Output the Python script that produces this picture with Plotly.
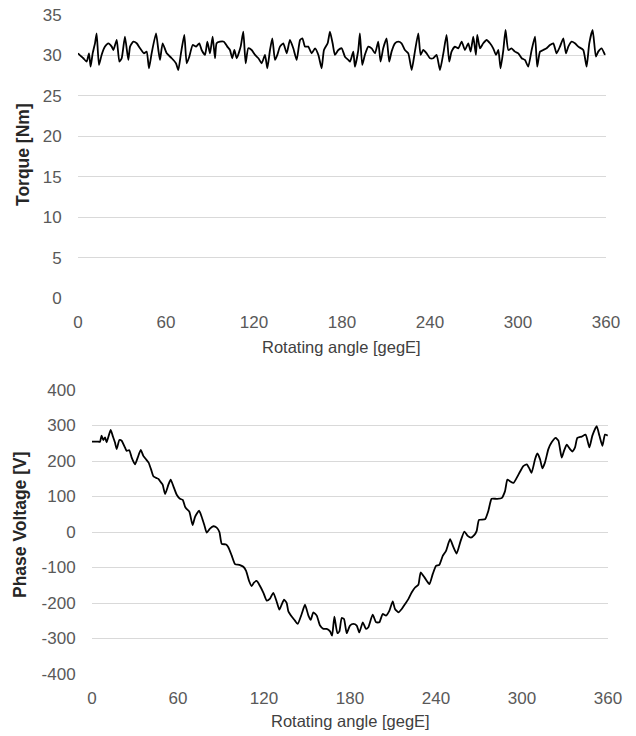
import plotly.graph_objects as go

# ---- Torque data (angle in degE, torque in Nm) ----
torque_angle = [0, 3.6, 5.9, 7.5, 8.6, 10.0, 11.6, 12.7, 14.3, 16.1, 18.4, 20.7, 23.0, 24.1, 26.4, 28.2, 29.8,
                32.0, 34.3, 35.5, 37.7, 40.0, 42.3, 45.0, 46.8, 48.4, 50.2, 53.2, 54.8, 55.9, 57.7, 60.5,
                63.9, 66.8, 68.4, 70.2, 72.5, 74.1, 75.9, 78.2, 80.5, 82.7, 84.3, 86.6, 88.2, 90.0, 91.8,
                93.4, 94.5, 96.8, 99.5, 101.8, 103.6, 105.2, 106.6, 108.2, 110.9, 112.7, 114.3, 116.1,
                118.4, 120.7, 123.0, 125.2, 127.5, 129.1, 130.9, 132.5, 134.3, 135.9, 137.7, 140.0, 142.3,
                144.5, 146.8, 149.1, 151.4, 153.0, 154.8, 157.0, 159.3, 161.6, 163.9, 166.1, 167.7, 170.2,
                171.8, 173.6, 175.2, 177.5, 179.8, 182.0, 184.3, 185.5, 187.7, 188.8, 191.1, 192.2, 193.8,
                195.6, 197.9, 200.2, 202.5, 204.7, 206.3, 208.1, 210.4, 212.2, 213.8, 216.1, 218.4, 220.6,
                222.9, 225.2, 227.5, 229.7, 232.0, 233.6, 235.4, 237.7, 240.0, 242.2, 244.5, 246.8, 249.1,
                251.3, 253.1, 254.7, 257.0, 259.3, 261.6, 263.8, 266.1, 267.7, 269.5, 271.3, 272.2, 274.1,
                276.3, 278.6, 280.9, 283.1, 285.0, 286.6, 288.1, 290.0, 291.5, 293.4, 295.6, 297.9, 300.2,
                302.5, 304.7, 307.0, 309.3, 311.6, 313.1, 315.0, 317.2, 319.5, 321.8, 324.1, 326.3, 328.6,
                330.9, 332.7, 334.3, 336.6, 338.8, 341.1, 344.5, 346.8, 348.6, 350.9, 353.1, 354.7, 357.0,
                359.3]
torque_nm = [30.26, 29.65, 29.23, 30.26, 28.61, 30.26, 31.50, 32.73, 28.82, 30.06, 31.09, 31.50, 31.09, 30.67,
             31.91, 29.23, 29.65, 32.32, 29.44, 31.09, 31.70, 31.50, 30.88, 30.26, 30.47, 28.41, 30.26,
             32.73, 30.67, 29.44, 31.50, 30.26, 29.65, 29.03, 28.20, 30.26, 32.53, 29.03, 29.85, 31.29,
             31.09, 31.50, 30.67, 30.06, 31.70, 30.26, 32.32, 29.65, 31.50, 31.70, 31.70, 31.09, 30.67,
             29.65, 30.67, 29.65, 31.09, 32.94, 29.03, 30.88, 30.67, 30.06, 29.65, 29.03, 30.06, 28.41,
             30.67, 32.12, 29.44, 30.06, 31.09, 31.50, 30.26, 31.91, 30.88, 29.44, 31.91, 32.12, 31.09,
             31.09, 30.26, 30.88, 30.06, 28.41, 30.67, 31.50, 32.94, 31.50, 30.06, 30.67, 30.88, 29.85,
             29.44, 29.23, 30.47, 28.61, 30.67, 32.73, 28.82, 30.06, 31.09, 30.88, 30.26, 31.70, 29.23,
             30.88, 32.12, 29.23, 30.47, 31.50, 31.70, 31.50, 30.67, 30.26, 28.20, 30.47, 32.73, 30.06,
             30.67, 30.26, 29.65, 29.65, 30.06, 28.20, 30.26, 32.53, 29.23, 30.47, 31.09, 30.88, 31.70,
             30.67, 31.50, 30.47, 32.32, 30.06, 32.53, 30.88, 31.50, 31.91, 31.50, 30.88, 30.06, 30.67,
             28.41, 30.67, 33.15, 30.67, 30.88, 30.47, 30.26, 29.65, 29.44, 28.61, 30.67, 32.32, 28.61,
             30.47, 30.67, 30.88, 31.29, 31.50, 30.26, 31.09, 32.12, 30.26, 31.09, 31.70, 31.50, 31.09,
             30.67, 28.61, 31.50, 33.15, 29.85, 30.47, 30.88, 30.06]

# ---- Phase voltage data (angle in degE, voltage in V) ----
volt_angle = [0, 4.4, 5.6, 6.7, 7.9, 9.1, 10.2, 13.0, 14.4, 16.0, 17.2, 19.1, 20.7, 23.0, 24.2, 26.0, 27.7,
              30.0, 31.9, 34.0, 35.8, 37.7, 39.5, 41.2, 42.8, 44.7, 46.3, 47.5, 49.3, 51.0, 53.3, 54.9,
              56.8, 59.1, 61.4, 63.3, 64.9, 65.6, 67.9, 70.2, 71.9, 74.7, 76.5, 78.4, 80.0, 82.3, 84.7,
              87.0, 88.9, 90.5, 93.5, 95.1, 97.5, 99.8, 102.8, 105.6, 107.5, 109.6, 111.4, 113.0, 114.9,
              117.2, 119.6, 121.9, 124.2, 126.5, 128.9, 130.7, 132.3, 134.0, 135.8, 137.0, 139.3, 141.6,
              143.5, 146.3, 148.6, 151.0, 152.6, 154.4, 156.8, 159.1, 161.4, 163.7, 166.1, 167.5, 169.1,
              171.2, 172.6, 174.2, 175.8, 177.7, 180.0, 182.3, 184.7, 186.5, 188.9, 191.2, 192.8, 195.8,
              198.2, 200.5, 202.8, 205.1, 207.5, 209.8, 211.4, 213.8, 216.1, 218.4, 220.7, 223.0, 225.4,
              227.7, 229.3, 232.3, 235.4, 237.7, 240.0, 242.3, 244.7, 247.0, 249.8, 252.1, 254.4, 257.2,
              259.8, 262.1, 264.4, 266.8, 268.4, 270.0, 274.2, 276.5, 278.8, 282.3, 285.8, 288.1, 289.8,
              291.6, 294.0, 296.3, 298.6, 300.9, 303.3, 305.1, 306.7, 309.1, 310.7, 312.6, 314.2, 316.0,
              318.4, 320.7, 323.5, 325.4, 327.7, 329.3, 331.2, 333.5, 335.1, 337.0, 338.6, 341.6, 344.4,
              347.0, 349.1, 352.1, 354.0, 356.1, 357.9, 359.8]
volt_v = [254.3, 254.3, 254.3, 271.5, 259.1, 266.7, 252.5, 287.7, 271.5, 252.5, 233.4, 259.1, 257.2, 238.2,
          228.6, 230.5, 209.6, 190.6, 209.6, 231.5, 214.4, 204.8, 195.3, 176.3, 157.2, 152.5, 149.6, 142.9,
          133.4, 106.8, 133.4, 147.7, 128.7, 104.9, 93.5, 90.6, 71.6, 66.7, 57.2, 19.1, 42.9, 60.0, 42.9,
          19.1, -1.8, 9.6, 16.2, 12.4, 0.0, -33.3, -35.2, -42.8, -66.6, -90.4, -92.3, -98.0, -109.4,
          -138.0, -152.3, -142.7, -138.0, -152.3, -171.3, -193.2, -187.5, -171.3, -197.0, -218.9, -204.6,
          -190.4, -199.9, -223.7, -238.0, -249.6, -259.0, -230.9, -204.7, -235.6, -247.7, -226.2, -235.6,
          -263.6, -273.0, -273.0, -280.0, -292.0, -238.4, -285.0, -280.0, -242.1, -244.9, -285.0, -263.6,
          -259.0, -263.6, -283.0, -254.3, -273.0, -268.3, -232.8, -254.3, -254.3, -230.9, -235.6, -221.6,
          -195.4, -216.9, -226.2, -216.9, -202.9, -189.1, -170.3, -156.3, -148.8, -114.1, -130.0, -146.9,
          -118.8, -95.3, -92.5, -67.2, -53.1, -20.3, -41.9, -60.6, -25.0, 1.3, -10.9, -15.6, -8.1, 3.1,
          34.1, 35.9, 59.4, 93.5, 93.5, 95.4, 114.4, 147.8, 143.0, 138.2, 152.5, 169.7, 185.8, 190.6,
          179.2, 166.8, 204.9, 221.1, 204.9, 179.2, 195.4, 233.4, 252.5, 264.9, 257.2, 209.6, 228.7,
          245.8, 233.4, 226.8, 238.2, 264.9, 268.7, 274.4, 238.2, 271.5, 298.2, 271.5, 242.9, 274.4,
          271.5]

x_ticks = [0, 60, 120, 180, 240, 300, 360]
torque_ticks = [0, 5, 10, 15, 20, 25, 30, 35]
volt_ticks = [-400, -300, -200, -100, 0, 100, 200, 300, 400]

x_title = "Rotating angle [gegE]"
torque_title = "Torque [Nm]"
volt_title = "Phase Voltage [V]"

FONT = "Liberation Sans, Arial, sans-serif"
TICK_COLOR = "#595959"
GRID = "#D9D9D9"
W, H = 636, 736
TICK_SIZE = 17

fig = go.Figure()
fig.add_trace(go.Scatter(x=torque_angle, y=torque_nm, mode="lines",
                         line=dict(color="black", width=1.8, shape="spline", smoothing=0.5),
                         xaxis="x", yaxis="y", showlegend=False, hoverinfo="skip"))
fig.add_trace(go.Scatter(x=volt_angle, y=volt_v, mode="lines",
                         line=dict(color="black", width=1.8, shape="spline", smoothing=0.5),
                         xaxis="x2", yaxis="y2", showlegend=False, hoverinfo="skip"))

def px_x(p):
    return p / W

def px_y(p):
    return (H - p) / H

xcommon = dict(range=[0, 360], tickvals=x_ticks, ticktext=[str(t) for t in x_ticks],
               showgrid=False, zeroline=False, showline=False,
               automargin=False, ticks="outside", ticklen=9, tickcolor="rgba(0,0,0,0)",
               tickfont=dict(family=FONT, size=TICK_SIZE, color=TICK_COLOR), fixedrange=True)
ycommon = dict(showgrid=True, gridcolor=GRID, gridwidth=1, zeroline=False, showline=False,
               automargin=False, ticks="outside", ticklen=12, tickcolor="rgba(0,0,0,0)",
               tickfont=dict(family=FONT, size=TICK_SIZE, color=TICK_COLOR), fixedrange=True)

fig.update_layout(
    template="none",
    width=W, height=H, autosize=False,
    margin=dict(l=0, r=0, t=0, b=0, pad=0),
    paper_bgcolor="white", plot_bgcolor="white",
    xaxis=dict(domain=[px_x(78), px_x(606)], anchor="y", **xcommon),
    yaxis=dict(domain=[px_y(298), px_y(15)], anchor="x", range=[0, 35], tickvals=torque_ticks,
               ticktext=[str(t) for t in torque_ticks], **ycommon),
    xaxis2=dict(domain=[px_x(92), px_x(608)], anchor="y2", **xcommon),
    yaxis2=dict(domain=[px_y(674), px_y(390)], anchor="x2", range=[-400, 400], tickvals=volt_ticks,
                ticktext=[str(t) for t in volt_ticks], **ycommon),
    annotations=[
        dict(text=x_title, xref="paper", yref="paper", x=px_x(341), y=px_y(347),
             xanchor="center", yanchor="middle", showarrow=False,
             font=dict(family=FONT, size=16.5, color="#404040")),
        dict(text=x_title, xref="paper", yref="paper", x=px_x(350), y=px_y(721),
             xanchor="center", yanchor="middle", showarrow=False,
             font=dict(family=FONT, size=16.5, color="#404040")),
        dict(text="<b>" + torque_title + "</b>", xref="paper", yref="paper", x=px_x(23), y=px_y(155),
             xanchor="center", yanchor="middle", showarrow=False, textangle=-90,
             font=dict(family=FONT, size=17.5, color="#262626")),
        dict(text="<b>" + volt_title + "</b>", xref="paper", yref="paper", x=px_x(20), y=px_y(525),
             xanchor="center", yanchor="middle", showarrow=False, textangle=-90,
             font=dict(family=FONT, size=17.5, color="#262626")),
    ],
)

fig.write_html("out.html")
